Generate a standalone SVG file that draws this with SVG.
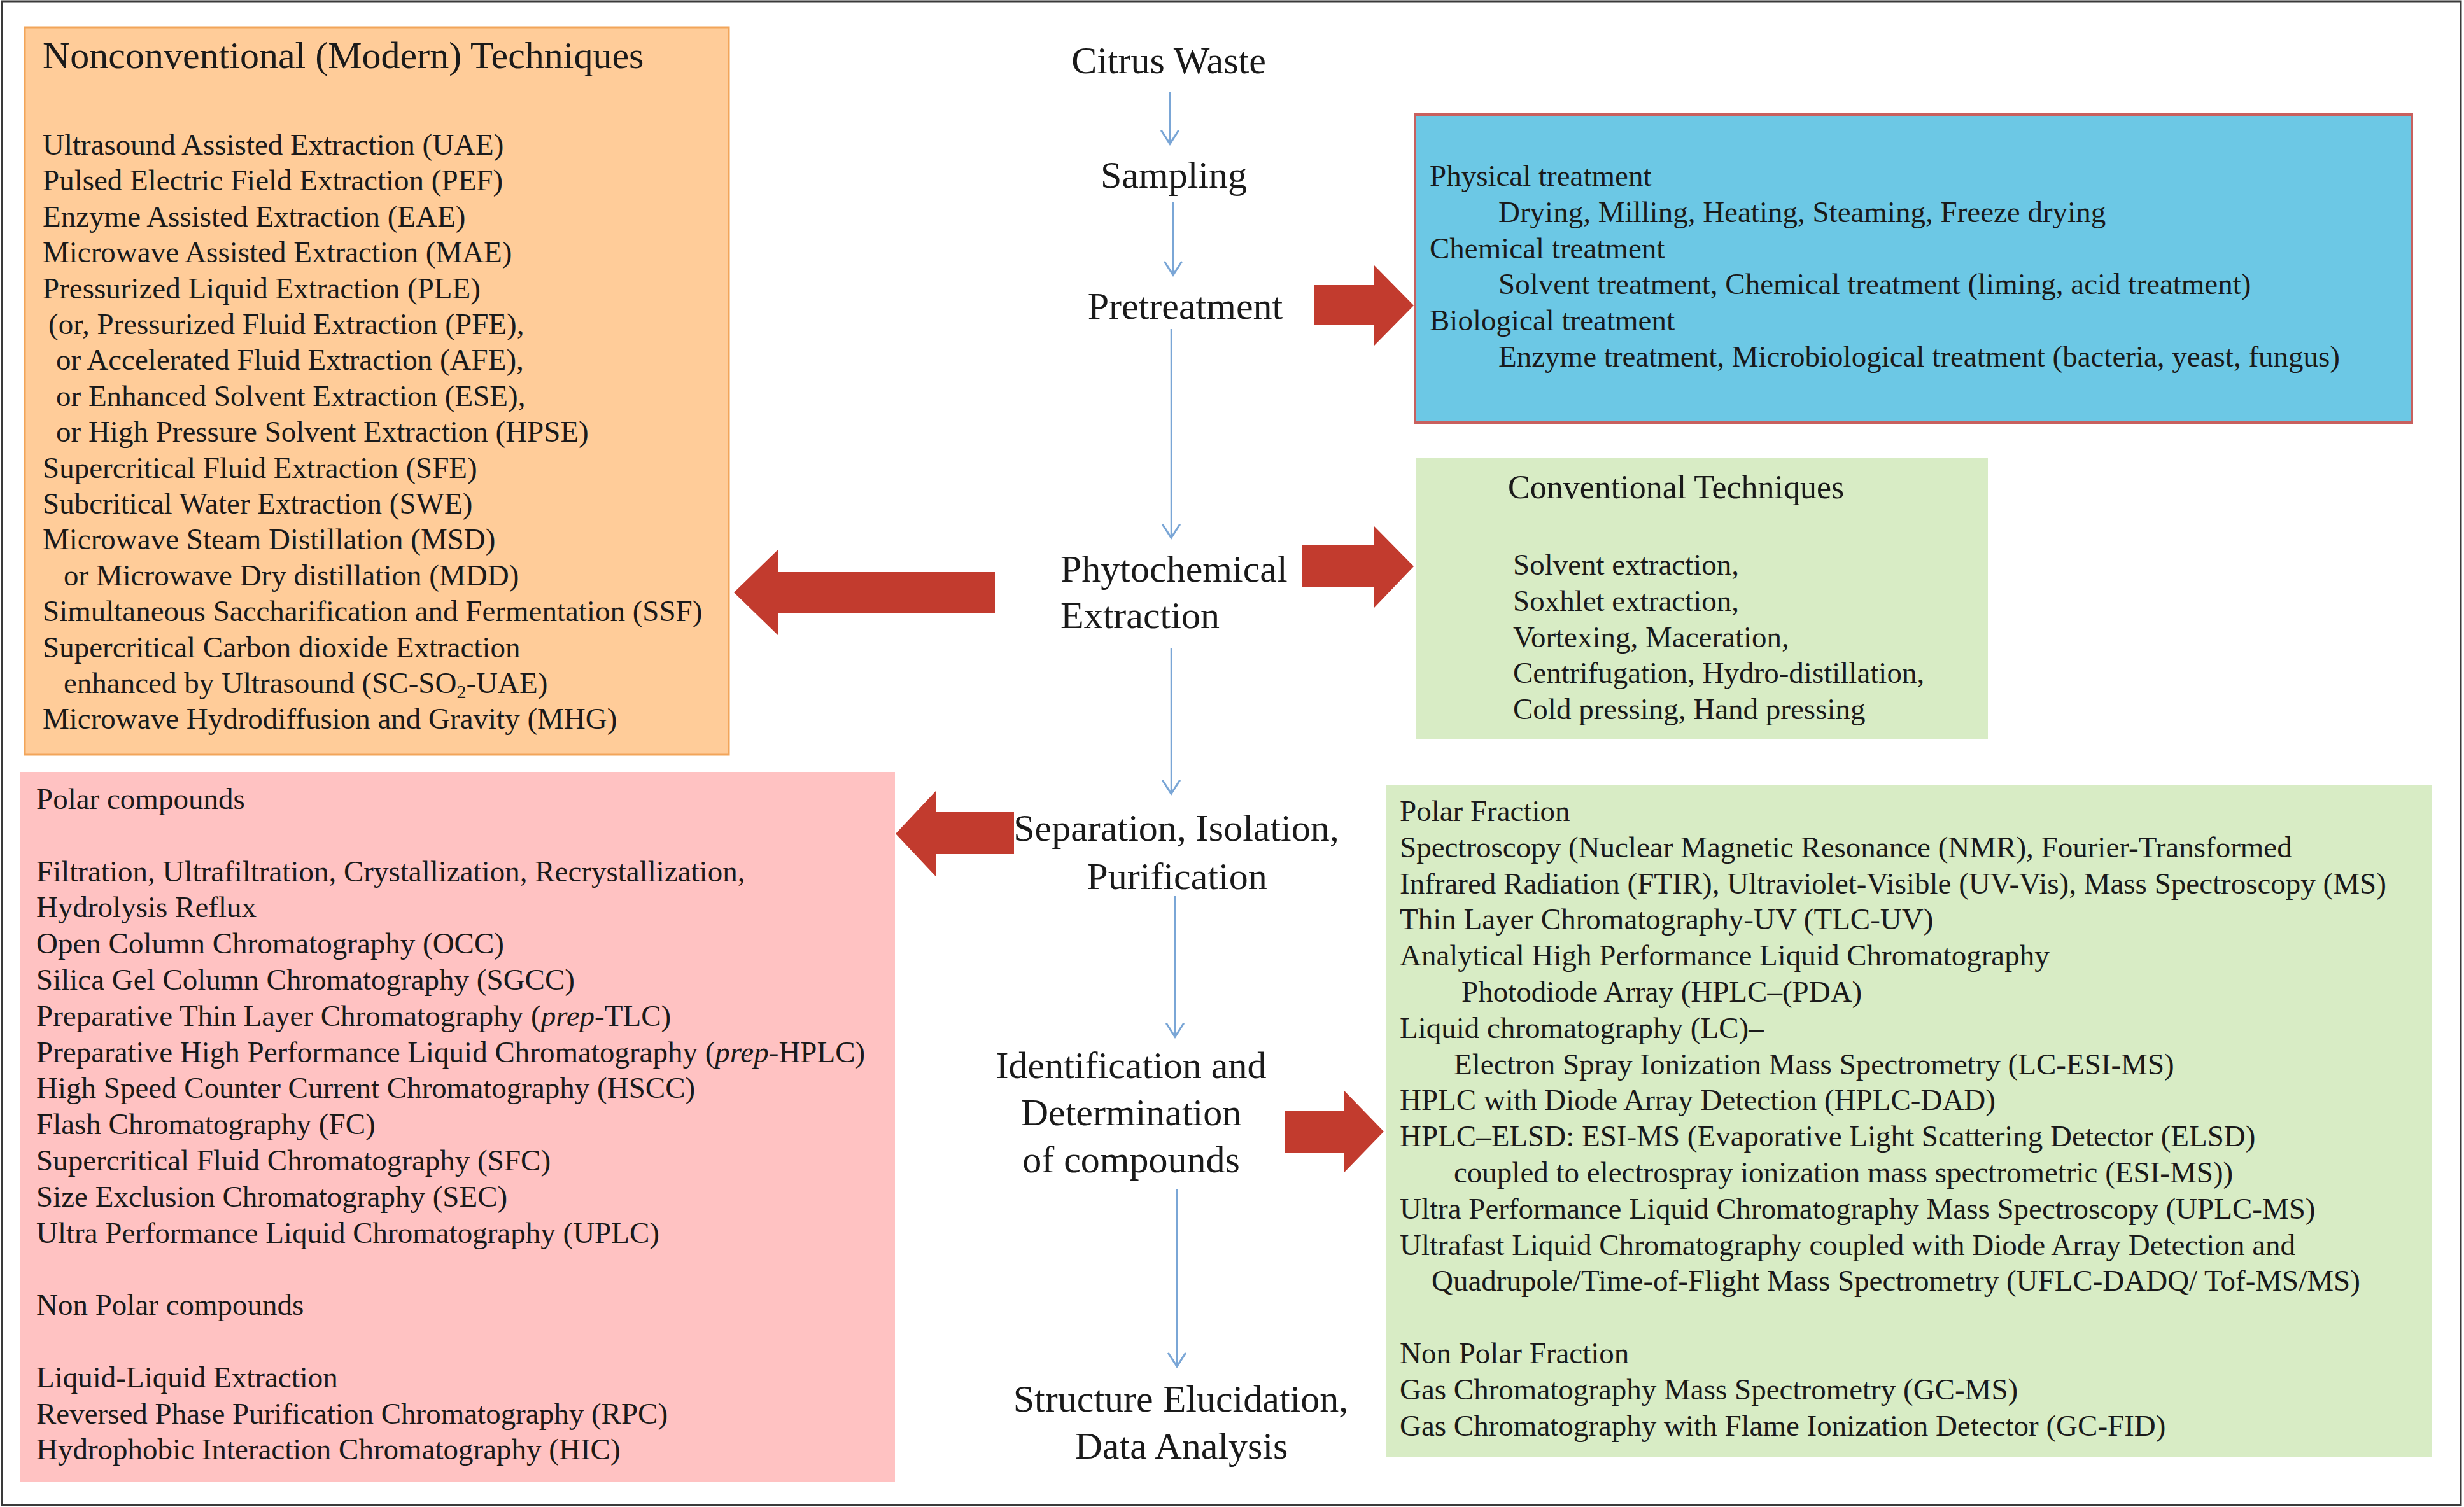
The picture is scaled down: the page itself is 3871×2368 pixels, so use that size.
<svg xmlns="http://www.w3.org/2000/svg" width="3871" height="2368" viewBox="0 0 3871 2368">
<defs>
<style>
text{font-family:"Liberation Serif","Times New Roman",serif;fill:#1a1a1a;}
.b{font-size:47px;}
.c{font-size:60px;}
.cm{font-size:60px;text-anchor:middle;}
.h{font-size:60px;}
.conn{stroke:#7aa6d6;stroke-width:2.5;fill:none;}
.red{fill:#c23b2e;}
</style>
<marker id="v" markerUnits="userSpaceOnUse" markerWidth="30" markerHeight="30" refX="21" refY="12" orient="auto" viewBox="0 0 24 24">
<path d="M4,1 L21,12 L4,23" fill="none" stroke="#7aa6d6" stroke-width="2.5"/>
</marker>
</defs>
<rect x="0" y="0" width="3871" height="2368" fill="#ffffff"/>
<rect x="3" y="2" width="3863" height="2363" fill="none" stroke="#3a3a3a" stroke-width="3"/>

<g id="nonconventional">
<rect x="39" y="43" width="1106" height="1143" fill="#ffcc99" stroke="#f2a55a" stroke-width="3"/>
<text class="h" x="67" y="107">Nonconventional (Modern) Techniques</text>
<text class="b" x="67" y="243">Ultrasound Assisted Extraction (UAE)</text>
<text class="b" x="67" y="299.4">Pulsed Electric Field Extraction (PEF)</text>
<text class="b" x="67" y="355.8">Enzyme Assisted Extraction (EAE)</text>
<text class="b" x="67" y="412.2">Microwave Assisted Extraction (MAE)</text>
<text class="b" x="67" y="468.6">Pressurized Liquid Extraction (PLE)</text>
<text class="b" x="76" y="525">(or, Pressurized Fluid Extraction (PFE),</text>
<text class="b" x="88" y="581.4">or Accelerated Fluid Extraction (AFE),</text>
<text class="b" x="88" y="637.8">or Enhanced Solvent Extraction (ESE),</text>
<text class="b" x="88" y="694.2">or High Pressure Solvent Extraction (HPSE)</text>
<text class="b" x="67" y="750.6">Supercritical Fluid Extraction (SFE)</text>
<text class="b" x="67" y="807">Subcritical Water Extraction (SWE)</text>
<text class="b" x="67" y="863.4">Microwave Steam Distillation (MSD)</text>
<text class="b" x="100" y="919.8">or Microwave Dry distillation (MDD)</text>
<text class="b" x="67" y="976.2">Simultaneous Saccharification and Fermentation (SSF)</text>
<text class="b" x="67" y="1032.6">Supercritical Carbon dioxide Extraction</text>
<text class="b" x="100" y="1089">enhanced by Ultrasound (SC-SO<tspan font-size="30" dy="8">2</tspan><tspan dy="-8">-UAE)</tspan></text>
<text class="b" x="67" y="1145.4">Microwave Hydrodiffusion and Gravity (MHG)</text>
</g>

<g id="pretreatment-box">
<rect x="2223" y="180" width="1566" height="484" fill="#6cc8e5" stroke="#c8605e" stroke-width="4"/>
<text class="b" x="2246" y="292">Physical treatment</text>
<text class="b" x="2354" y="348.8">Drying, Milling, Heating, Steaming, Freeze drying</text>
<text class="b" x="2246" y="405.6">Chemical treatment</text>
<text class="b" x="2354" y="462.4">Solvent treatment, Chemical treatment (liming, acid treatment)</text>
<text class="b" x="2246" y="519.2">Biological treatment</text>
<text class="b" x="2354" y="576">Enzyme treatment, Microbiological treatment (bacteria, yeast, fungus)</text>
</g>

<g id="conventional">
<rect x="2224" y="719" width="899" height="442" fill="#d8ecc5"/>
<text x="2369" y="783" style="font-size:52px">Conventional Techniques</text>
<text class="b" x="2377" y="903">Solvent extraction,</text>
<text class="b" x="2377" y="959.8">Soxhlet extraction,</text>
<text class="b" x="2377" y="1016.6">Vortexing, Maceration,</text>
<text class="b" x="2377" y="1073.4">Centrifugation, Hydro-distillation,</text>
<text class="b" x="2377" y="1130.2">Cold pressing, Hand pressing</text>
</g>

<g id="separation-box">
<rect x="31" y="1213" width="1375" height="1115" fill="#ffc2c2"/>
<text class="b" x="57" y="1271">Polar compounds</text>
<text class="b" x="57" y="1384.6">Filtration, Ultrafiltration, Crystallization, Recrystallization,</text>
<text class="b" x="57" y="1441.4">Hydrolysis Reflux</text>
<text class="b" x="57" y="1498.2">Open Column Chromatography (OCC)</text>
<text class="b" x="57" y="1555">Silica Gel Column Chromatography (SGCC)</text>
<text class="b" x="57" y="1611.8">Preparative Thin Layer Chromatography (<tspan font-style="italic">prep</tspan>-TLC)</text>
<text class="b" x="57" y="1668.6">Preparative High Performance Liquid Chromatography (<tspan font-style="italic">prep</tspan>-HPLC)</text>
<text class="b" x="57" y="1725.4">High Speed Counter Current Chromatography (HSCC)</text>
<text class="b" x="57" y="1782.2">Flash Chromatography (FC)</text>
<text class="b" x="57" y="1839">Supercritical Fluid Chromatography (SFC)</text>
<text class="b" x="57" y="1895.8">Size Exclusion Chromatography (SEC)</text>
<text class="b" x="57" y="1952.6">Ultra Performance Liquid Chromatography (UPLC)</text>
<text class="b" x="57" y="2066.2">Non Polar compounds</text>
<text class="b" x="57" y="2179.8">Liquid-Liquid Extraction</text>
<text class="b" x="57" y="2236.6">Reversed Phase Purification Chromatography (RPC)</text>
<text class="b" x="57" y="2293.4">Hydrophobic Interaction Chromatography (HIC)</text>
</g>

<g id="identification-box">
<rect x="2178" y="1233" width="1643" height="1057" fill="#d8ecc5"/>
<text class="b" x="2199" y="1290">Polar Fraction</text>
<text class="b" x="2199" y="1346.8">Spectroscopy (Nuclear Magnetic Resonance (NMR), Fourier-Transformed</text>
<text class="b" x="2199" y="1403.6">Infrared Radiation (FTIR), Ultraviolet-Visible (UV-Vis), Mass Spectroscopy (MS)</text>
<text class="b" x="2199" y="1460.4">Thin Layer Chromatography-UV (TLC-UV)</text>
<text class="b" x="2199" y="1517.2">Analytical High Performance Liquid Chromatography</text>
<text class="b" x="2296" y="1574">Photodiode Array (HPLC–(PDA)</text>
<text class="b" x="2199" y="1630.8">Liquid chromatography (LC)–</text>
<text class="b" x="2284" y="1687.6">Electron Spray Ionization Mass Spectrometry (LC-ESI-MS)</text>
<text class="b" x="2199" y="1744.4">HPLC with Diode Array Detection (HPLC-DAD)</text>
<text class="b" x="2199" y="1801.2">HPLC–ELSD: ESI-MS (Evaporative Light Scattering Detector (ELSD)</text>
<text class="b" x="2284" y="1858">coupled to electrospray ionization mass spectrometric (ESI-MS))</text>
<text class="b" x="2199" y="1914.8">Ultra Performance Liquid Chromatography Mass Spectroscopy (UPLC-MS)</text>
<text class="b" x="2199" y="1971.6">Ultrafast Liquid Chromatography coupled with Diode Array Detection and</text>
<text class="b" x="2249" y="2028.4">Quadrupole/Time-of-Flight Mass Spectrometry (UFLC-DADQ/ Tof-MS/MS)</text>
<text class="b" x="2199" y="2142">Non Polar Fraction</text>
<text class="b" x="2199" y="2198.8">Gas Chromatography Mass Spectrometry (GC-MS)</text>
<text class="b" x="2199" y="2255.6">Gas Chromatography with Flame Ionization Detector (GC-FID)</text>
</g>

<g id="citrus-waste"><text class="cm" x="1836" y="115">Citrus Waste</text></g>
<g id="sampling"><text class="cm" x="1844" y="295">Sampling</text></g>
<g id="pretreatment"><text class="cm" x="1862" y="501">Pretreatment</text></g>
<g id="phytochemical-extraction">
<text class="c" x="1666" y="914">Phytochemical</text>
<text class="c" x="1666" y="987">Extraction</text>
</g>
<g id="separation">
<text class="cm" x="1848" y="1321">Separation, Isolation,</text>
<text class="cm" x="1849" y="1397">Purification</text>
</g>
<g id="identification">
<text class="cm" x="1777" y="1694">Identification and</text>
<text class="cm" x="1777" y="1768">Determination</text>
<text class="cm" x="1777" y="1842">of compounds</text>
</g>
<g id="structure">
<text class="cm" x="1855" y="2218">Structure Elucidation,</text>
<text class="cm" x="1856" y="2292">Data Analysis</text>
</g>

<g id="connectors">
<line class="conn" x1="1838" y1="144" x2="1838" y2="226" marker-end="url(#v)"/>
<line class="conn" x1="1843" y1="317" x2="1843" y2="432" marker-end="url(#v)"/>
<line class="conn" x1="1840" y1="517" x2="1840" y2="845" marker-end="url(#v)"/>
<line class="conn" x1="1840" y1="1019" x2="1840" y2="1247" marker-end="url(#v)"/>
<line class="conn" x1="1846" y1="1408" x2="1846" y2="1629" marker-end="url(#v)"/>
<line class="conn" x1="1849" y1="1869" x2="1849" y2="2147" marker-end="url(#v)"/>
<polygon class="red" points="2064,448 2159,448 2159,417 2221,480 2159,543 2159,511 2064,511"/>
<polygon class="red" points="2045,857 2158,857 2158,826 2221,890 2158,956 2158,923 2045,923"/>
<polygon class="red" points="1563,899 1222,899 1222,864 1153,931 1222,998 1222,963 1563,963"/>
<polygon class="red" points="1593,1276 1470,1276 1470,1243 1407,1310 1470,1377 1470,1342 1593,1342"/>
<polygon class="red" points="2019,1745 2111,1745 2111,1713 2174,1778 2111,1843 2111,1811 2019,1811"/>
</g>
</svg>
